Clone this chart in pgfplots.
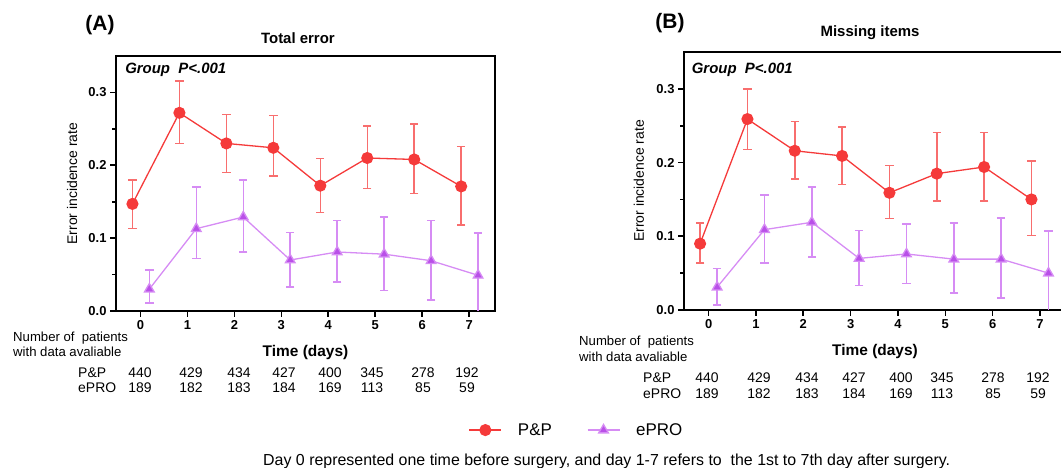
\documentclass[border=0pt]{standalone}
\usepackage{fontspec}
\setmainfont{Liberation Sans}
\usepackage{pgfplots}
\pgfplotsset{compat=1.18}
\usepackage{pgfplotstable}
\definecolor{pp}{RGB}{245,58,58}
\definecolor{ppl}{RGB}{248,110,110}
\definecolor{ep}{RGB}{185,80,232}
\definecolor{epl}{RGB}{214,140,244}

% d = day, y = rate, lo/hi = error bar ends
\pgfplotstableread{
d y lo hi
0 0.147 0.113 0.180
1 0.272 0.230 0.316
2 0.230 0.190 0.270
3 0.224 0.185 0.268
4 0.172 0.135 0.209
5 0.210 0.168 0.254
6 0.208 0.161 0.257
7 0.171 0.118 0.226
}\APP
\pgfplotstableread{
d y lo hi
0 0.030 0.011 0.056
1 0.113 0.072 0.170
2 0.129 0.081 0.180
3 0.070 0.033 0.108
4 0.081 0.040 0.124
5 0.078 0.028 0.129
6 0.069 0.015 0.124
7 0.049 -0.010 0.107
}\AEP
\pgfplotstableread{
d y lo hi
0 0.090 0.064 0.118
1 0.259 0.218 0.300
2 0.216 0.178 0.256
3 0.209 0.170 0.248
4 0.159 0.124 0.196
5 0.185 0.148 0.241
6 0.194 0.148 0.241
7 0.150 0.101 0.202
}\BPP
\pgfplotstableread{
d y lo hi
0 0.031 0.007 0.056
1 0.109 0.064 0.156
2 0.119 0.072 0.167
3 0.070 0.033 0.108
4 0.076 0.036 0.117
5 0.069 0.023 0.118
6 0.069 0.016 0.125
7 0.050 -0.010 0.107
}\BEP

\newcommand{\fs}[1]{\fontsize{#1}{#1}\selectfont}

\pgfplotsset{
  panel/.style={
    scale only axis,
    xmin=-0.52, xmax=7.55, ymin=0, ymax=0.35,
    xtick={0,...,7}, ytick={0,0.1,0.2,0.3}, minor ytick={0.05,0.15,0.25},
    tick pos=left, tick align=outside,
    major tick length=6bp, minor tick length=4bp,
    tick style={black, line width=1.6bp},
    axis line style={line width=1.8bp},
    /pgf/number format/assume math mode=true,
    ticklabel style={font=\fs{13}\bfseries},
    yticklabel style={/pgf/number format/fixed, /pgf/number format/fixed zerofill, /pgf/number format/precision=1},
    ylabel={Error incidence rate},
    xlabel={Time (days)},
    xlabel style={font=\fs{15.5}\bfseries, at={(axis description cs:0.5,-0.161)}, anchor=center},
    title style={font=\fs{15}\bfseries, anchor=center},
  },
  pps/.style={pp, line width=1.3bp, mark=*, mark size=5.4bp, mark options={solid, fill=pp, draw=pp},
    error bars/.cd, y dir=both, y explicit,
    error bar style={solid, line width=1.5bp, draw=ppl},
    error mark options={rotate=90, mark size=4.2bp, line width=1.5bp, draw=ppl}},
  eps/.style={epl, line width=1.3bp, mark=triangle*, mark size=5.6bp, mark options={solid, fill=ep, draw=epl},
    error bars/.cd, y dir=both, y explicit,
    error bar style={solid, line width=1.5bp, draw=epl},
    error mark options={rotate=90, mark size=4.2bp, line width=1.5bp, draw=epl}},
}

\begin{document}
\begin{tikzpicture}
\useasboundingbox (0,0) rectangle (1061bp,468bp);

\begin{axis}[panel, at={(116bp,157bp)}, anchor=south west, width=379bp, height=255bp,
  title={Total error}, title style={at={(axis description cs:0.48,1.047)}},
  ylabel style={font=\fs{14}, at={(axis description cs:-0.116,0.5)}, anchor=center},
  legend columns=2,
  legend style={draw=none, fill=none, at={(1.215,-0.467)}, anchor=center, font=\fs{17},
    /tikz/every odd column/.append style={column sep=14bp},
    /tikz/every even column/.append style={column sep=33bp}},
  legend image code/.code={\draw[mark repeat=2,mark phase=2] plot coordinates {(0bp,0bp)(16bp,0bp)(32bp,0bp)};},
]
\addplot[pps] table[x expr=\thisrow{d}-0.17, y=y, y error plus expr=\thisrow{hi}-\thisrow{y}, y error minus expr=\thisrow{y}-\thisrow{lo}] \APP;
\addlegendentry{P\&P}
\addplot[eps] table[x expr=\thisrow{d}+0.19, y=y, y error plus expr=\thisrow{hi}-\thisrow{y}, y error minus expr=\thisrow{y}-\thisrow{lo}] \AEP;
\addlegendentry{ePRO}
\node[anchor=west, inner sep=0pt, font=\fs{15}\bfseries\itshape] at (axis description cs:0.024,0.945) {Group\ \ P<.001};
\end{axis}

\begin{axis}[panel, at={(684bp,158bp)}, anchor=south west, width=382bp, height=258bp,
  title={Missing items}, title style={at={(axis description cs:0.487,1.053)}},
  ylabel style={font=\fs{14}, at={(axis description cs:-0.118,0.5)}, anchor=center},
]
\addplot[pps] table[x expr=\thisrow{d}-0.18, y=y, y error plus expr=\thisrow{hi}-\thisrow{y}, y error minus expr=\thisrow{y}-\thisrow{lo}] \BPP;
\addplot[eps] table[x expr=\thisrow{d}+0.18, y=y, y error plus expr=\thisrow{hi}-\thisrow{y}, y error minus expr=\thisrow{y}-\thisrow{lo}] \BEP;
\node[anchor=west, inner sep=0pt, font=\fs{15}\bfseries\itshape] at (axis description cs:0.02,0.931) {Group\ \ P<.001};
\end{axis}

% panel letters
\node[font=\fs{21}\bfseries] at (100bp,443bp) {(A)};
\node[font=\fs{21}\bfseries] at (670bp,445bp) {(B)};

% patient counts, panel A
\node[anchor=west, inner sep=0pt, font=\fs{13.2}] at (13bp,130bp) {Number of\ \ patients};
\node[anchor=west, inner sep=0pt, font=\fs{13.2}] at (13bp,116bp) {with data avaliable};
\node[anchor=west, inner sep=0pt, font=\fs{14}] at (78bp,95bp) {P\&P};
\node[anchor=west, inner sep=0pt, font=\fs{14}] at (78bp,80bp) {ePRO};
\foreach \x/\a/\b in {140/440/189,191/429/182,239/434/183,284/427/184,330/400/169,372/345/113,423/278/85,467/192/59}{
  \node[font=\fs{14}] at (\x bp,95bp) {\a};
  \node[font=\fs{14}] at (\x bp,80bp) {\b};
}
% patient counts, panel B
\node[anchor=west, inner sep=0pt, font=\fs{13.2}] at (579bp,126bp) {Number of\ \ patients};
\node[anchor=west, inner sep=0pt, font=\fs{13.2}] at (579bp,111bp) {with data avaliable};
\node[anchor=west, inner sep=0pt, font=\fs{14}] at (643bp,90bp) {P\&P};
\node[anchor=west, inner sep=0pt, font=\fs{14}] at (643bp,74bp) {ePRO};
\foreach \x/\a/\b in {707/440/189,759/429/182,807/434/183,854/427/184,901/400/169,942/345/113,993/278/85,1038/192/59}{
  \node[font=\fs{14}] at (\x bp,90bp) {\a};
  \node[font=\fs{14}] at (\x bp,74bp) {\b};
}

\node[anchor=west, inner sep=0pt, font=\fs{16}] at (263bp,7bp) {Day 0 represented one time before surgery, and day 1-7 refers to\ \ the 1st to 7th day after surgery.};
\end{tikzpicture}
\end{document}
